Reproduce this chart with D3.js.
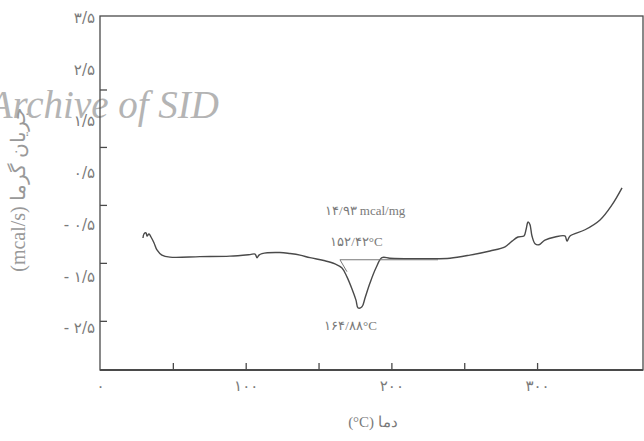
<!DOCTYPE html>
<html>
<head>
<meta charset="utf-8">
<script src="https://cdn.jsdelivr.net/npm/d3@7"></script>
<style>
  body { margin: 0; background: #fff; }
</style>
</head>
<body>
<div id="chart"></div>
<script>
// DSC curve (temperature in C, heat flow in mcal/s)
var temps = [29.5, 30.2, 31.6, 32.3, 33.6, 35.0, 37.1, 39.1, 42.5, 48.0, 68.6, 89.2, 103.0, 106.4, 107.8, 109.1, 111.2, 123.5,
  130.4, 137.3, 144.1, 154.4, 161.3, 166.1, 169.5, 172.9, 175.7, 177.1, 179.8, 181.9, 185.3, 189.4, 193.5, 199.0, 212.8,
  226.5, 240.2, 253.9, 267.7, 278.0, 282.8, 286.9, 291.0, 292.4, 293.8, 295.1, 296.5, 298.6, 301.3, 305.4, 312.3, 319.1,
  320.5, 322.6, 332.9, 343.2, 351.4, 358.3];
var flow = [-0.76, -0.68, -0.66, -0.72, -0.68, -0.74, -0.855, -0.99, -1.09, -1.13, -1.12, -1.11, -1.08, -1.07, -1.14, -1.09, -1.06, -1.04,
  -1.06, -1.09, -1.14, -1.20, -1.26, -1.34, -1.51, -1.74, -1.96, -2.11, -2.09, -1.92, -1.63, -1.34, -1.14, -1.15, -1.16,
  -1.16, -1.15, -1.09, -1.01, -0.93, -0.82, -0.74, -0.72, -0.60, -0.45, -0.50, -0.72, -0.87, -0.89, -0.80, -0.74, -0.72,
  -0.82, -0.72, -0.60, -0.41, -0.12, 0.21];

// peak baseline and onset tangent
var baseTemps = [164.7, 232];
var baseFlow = [-1.18, -1.18];
var onsetTemps = [164.7, 169.5];
var onsetFlow = [-1.18, -1.41];

var yTickValues = [3.5, 2.5, 1.5, 0.5, -0.5, -1.5, -2.5];
var yTickLabels = ["۳/۵", "۲/۵", "۱/۵", "۰/۵", "- ۰/۵", "- ۱/۵", "- ۲/۵"];
var yTickMarks = [2.11, 1.0, -0.12, -1.24, -2.36];
var xTickValues = [0, 100, 200, 300];
var xTickLabels = ["۰", "۱۰۰", "۲۰۰", "۳۰۰"];
var xTickMarks = [50, 100, 150, 200, 250, 300];

var notes = [
  {t: 182, v: -0.32, text: "۱۴/۹۳ mcal/mg"},
  {t: 176, v: -0.91, text: "۱۵۲/۴۲°C"},
  {t: 172, v: -2.54, text: "۱۶۴/۸۸°C"}
];

var width = 644, height = 441;
var sans = "DejaVu Sans, sans-serif";
var serif = "Liberation Serif, DejaVu Serif, serif";

var svg = d3.select("#chart").append("svg")
  .attr("width", width)
  .attr("height", height);

var x = d3.scaleLinear().domain([0, 372.7]).range([100, 643]);
var y = d3.scaleLinear().domain([-3.31, 3.53]).range([370, 16]);

var ink = "#4a4a4a";
var labelInk = "#7a7a7a";

// watermark
svg.append("text")
  .attr("x", 219).attr("y", 118)
  .attr("text-anchor", "end")
  .style("font-family", serif)
  .style("font-style", "italic")
  .style("font-size", "39px")
  .attr("fill", "#b4b4b4")
  .text("Archive of SID");

// frame
svg.append("rect")
  .attr("x", x(0)).attr("y", y(3.53))
  .attr("width", x(372.7) - x(0))
  .attr("height", y(-3.31) - y(3.53))
  .attr("fill", "none")
  .attr("stroke", ink)
  .attr("stroke-width", 1.3);
svg.append("line")
  .attr("x1", x(0)).attr("x2", x(372.7))
  .attr("y1", y(-3.31)).attr("y2", y(-3.31))
  .attr("stroke", ink).attr("stroke-width", 2);

// y labels
var yLab = d3.axisLeft(y).tickValues(yTickValues)
  .tickFormat(function(d, i) { return yTickLabels[i]; })
  .tickSize(0).tickPadding(5);
var gy = svg.append("g").attr("transform", "translate(" + x(0) + ",0)").call(yLab);
gy.select(".domain").remove();
gy.selectAll("text").attr("fill", labelInk)
  .style("font-size", "15px").style("font-family", sans).style("letter-spacing", "2px");

// y inner tick marks
var yMarks = d3.axisRight(y).tickValues(yTickMarks).tickFormat("").tickSize(7);
var gym = svg.append("g").attr("transform", "translate(" + x(0) + ",0)").call(yMarks);
gym.select(".domain").remove();
gym.selectAll("line").attr("stroke", ink).attr("stroke-width", 1.3);

// x labels
var xLab = d3.axisBottom(x).tickValues(xTickValues)
  .tickFormat(function(d, i) { return xTickLabels[i]; })
  .tickSize(0).tickPadding(10);
var gx = svg.append("g").attr("transform", "translate(0," + y(-3.31) + ")").call(xLab);
gx.select(".domain").remove();
gx.selectAll("text").attr("fill", labelInk)
  .style("font-size", "15px").style("font-family", sans).style("letter-spacing", "3px");

// x inner tick marks
var xMarks = d3.axisTop(x).tickValues(xTickMarks).tickFormat("").tickSize(7);
var gxm = svg.append("g").attr("transform", "translate(0," + y(-3.31) + ")").call(xMarks);
gxm.select(".domain").remove();
gxm.selectAll("line").attr("stroke", ink).attr("stroke-width", 1.3);

// axis titles
svg.append("text")
  .attr("x", 373).attr("y", 427)
  .attr("text-anchor", "middle")
  .style("font-size", "15px").style("font-family", serif)
  .attr("fill", labelInk)
  .text("(°C) دما");

svg.append("text")
  .attr("transform", "translate(25,190) rotate(-90)")
  .attr("text-anchor", "middle")
  .style("font-size", "20px").style("font-family", serif)
  .attr("fill", "#999")
  .text("(mcal/s) جریان گرما");

// curve
var line = d3.line()
  .x(function(d) { return x(d[0]); })
  .y(function(d) { return y(d[1]); })
  .curve(d3.curveCatmullRom.alpha(0.5));

svg.append("path")
  .datum(d3.zip(temps, flow))
  .attr("d", line)
  .attr("fill", "none")
  .attr("stroke", ink)
  .attr("stroke-width", 1.4);

var straight = d3.line()
  .x(function(d) { return x(d[0]); })
  .y(function(d) { return y(d[1]); });

svg.append("path")
  .datum(d3.zip(baseTemps, baseFlow))
  .attr("d", straight)
  .attr("fill", "none")
  .attr("stroke", "#777")
  .attr("stroke-width", 1);

svg.append("path")
  .datum(d3.zip(onsetTemps, onsetFlow))
  .attr("d", straight)
  .attr("fill", "none")
  .attr("stroke", "#777")
  .attr("stroke-width", 1);

// annotations
svg.selectAll("text.note")
  .data(notes)
  .join("text")
  .attr("class", "note")
  .attr("x", function(d) { return x(d.t); })
  .attr("y", function(d) { return y(d.v); })
  .attr("text-anchor", "middle")
  .style("font-family", serif)
  .style("font-size", "13px")
  .attr("fill", labelInk)
  .text(function(d) { return d.text; });
</script>
</body>
</html>
